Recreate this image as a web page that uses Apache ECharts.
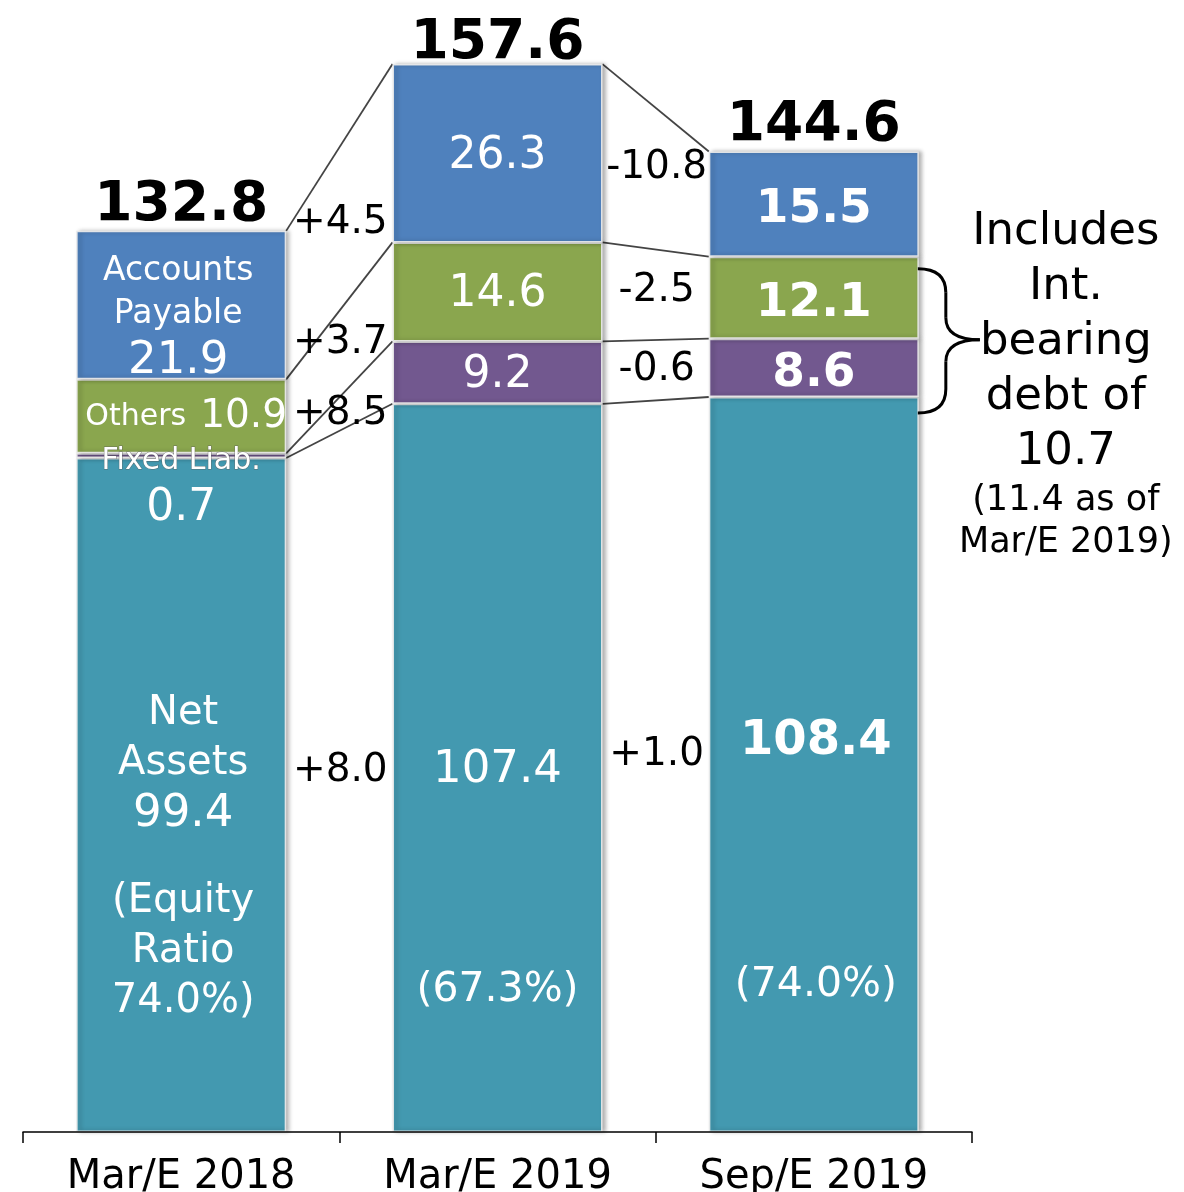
<!DOCTYPE html>
<html>
<head>
<meta charset="utf-8">
<script src="https://cdn.jsdelivr.net/npm/echarts@6/dist/echarts.min.js"></script>
<style>
  html, body { margin: 0; padding: 0; background: #fff; }
  #main { width: 1184px; height: 1192px; }
</style>
</head>
<body>
<div id="main"></div>
<script>
// values (billion yen)
const categories = ['Mar/E 2018', 'Mar/E 2019', 'Sep/E 2019'];
const netAssets = [99.4, 107.4, 108.4];
const fixedLiab = [0.7, 9.2, 8.6];
const others = [10.9, 14.6, 12.1];
const accountsPayable = [21.9, 26.3, 15.5];
const totals = [132.8, 157.6, 144.6];
const equityRatio = ['74.0%', '67.3%', '74.0%'];
// changes between periods, bottom to top: net, fixed, others, payable
const deltaText = [
  ['+8.0', '+8.5', '+3.7', '+4.5'],
  ['+1.0', '-0.6', '-2.5', '-10.8']
];
const debtNote = ['Includes', 'Int.', 'bearing', 'debt of', '10.7'];
const debtNoteSmall = ['(11.4 as of', 'Mar/E 2019)'];

// layout only: where the change labels sit (axis units)
const deltaAt = [
  [53.7, 106.3, 116.8, 134.5],
  [56.0, 112.8, 124.5, 142.6]
];
// layout only: gap between each total and its bar
const totalGap = [-2, -8, -2];

const FONT = 'DejaVu Sans';
const BAR_W = 210;
const colors = { net: '#4399B0', fixed: '#72588F', others: '#8AA64E', ap: '#4F81BD' };

const chart = echarts.init(document.getElementById('main'));

// top of each stacked segment per period
const levels = categories.map(function (c, i) {
  const a = netAssets[i];
  const b = a + fixedLiab[i];
  const d = b + others[i];
  return [a, b, d, d + accountsPayable[i]];
});

const connectorData = [];
for (let g = 0; g < categories.length - 1; g++) {
  for (let k = 0; k < 4; k++) {
    connectorData.push([g, levels[g][k], levels[g + 1][k]]);
  }
}
const deltaData = [];
const deltaFlat = [];
for (let g = 0; g < deltaText.length; g++) {
  for (let k = 0; k < 4; k++) {
    deltaData.push([g, deltaAt[g][k]]);
    deltaFlat.push(deltaText[g][k]);
  }
}

const fmt = v => v.toFixed(1);
const base = { show: true, position: 'inside', color: '#fff', fontFamily: FONT, textBorderWidth: 0 };
const plain = (v, size) => Object.assign({}, base, { formatter: fmt(v), fontSize: size, offset: [0, 3] });
const bold = v => Object.assign({}, base, { formatter: fmt(v), fontSize: 47, fontWeight: 'bold', offset: [0, 6] });

const barStyle = {
  borderColor: 'rgba(235,235,235,0.9)',
  borderWidth: 1.5,
  shadowColor: 'rgba(0,0,0,0.3)',
  shadowBlur: 4,
  shadowOffsetX: 3
};

function barSeries(name, values, color, labels) {
  return {
    name: name,
    type: 'bar',
    stack: 'bs',
    barWidth: BAR_W,
    itemStyle: Object.assign({ color: color }, barStyle),
    data: values.map(function (v, i) { return { value: v, label: labels[i] }; }),
    z: 2
  };
}

const netLabels = [
  Object.assign({}, base, {
    offset: [2, 63],
    formatter: '{w|Net}\n{w|Assets}\n{v|' + fmt(netAssets[0]) + '}\n{g| }\n{w|(Equity}\n{w|Ratio}\n{w|' + equityRatio[0] + ')}',
    rich: {
      w: { fontSize: 40, lineHeight: 50, color: '#fff', fontFamily: FONT },
      v: { fontSize: 45, lineHeight: 50, color: '#fff', fontFamily: FONT },
      g: { fontSize: 10, lineHeight: 38 }
    }
  }),
  Object.assign({}, base, {
    offset: [0, 112],
    formatter: '{v|' + fmt(netAssets[1]) + '}\n{g| }\n{p|(' + equityRatio[1] + ')}',
    rich: {
      v: { fontSize: 45, lineHeight: 50, color: '#fff', fontFamily: FONT },
      p: { fontSize: 41, lineHeight: 50, color: '#fff', fontFamily: FONT },
      g: { fontSize: 10, lineHeight: 170 }
    }
  }),
  Object.assign({}, base, {
    offset: [2, 99],
    formatter: '{b|' + fmt(netAssets[2]) + '}\n{g| }\n{p|(' + equityRatio[2] + ')}',
    rich: {
      b: { fontSize: 48, fontWeight: 'bold', lineHeight: 50, color: '#fff', fontFamily: FONT },
      p: { fontSize: 41, lineHeight: 50, color: '#fff', fontFamily: FONT },
      g: { fontSize: 10, lineHeight: 194 }
    }
  })
];

const fixedLabels = [
  Object.assign({}, base, {
    offset: [0, 31],
    formatter: '{f|Fixed Liab.}\n{v|' + fmt(fixedLiab[0]) + '}',
    rich: {
      f: { fontSize: 30, lineHeight: 44, color: '#fff', fontFamily: FONT, textBorderColor: 'rgba(90,90,90,0.7)', textBorderWidth: 1 },
      v: { fontSize: 44, lineHeight: 50, color: '#fff', fontFamily: FONT }
    }
  }),
  plain(fixedLiab[1], 44),
  bold(fixedLiab[2])
];

const otherLabels = [
  Object.assign({}, base, {
    offset: [5, 1],
    formatter: '{n|Others}{v|' + fmt(others[0]) + '}',
    rich: {
      n: { fontSize: 30, color: '#fff', fontFamily: FONT, padding: [0, 14, 0, 0] },
      v: { fontSize: 39, color: '#fff', fontFamily: FONT }
    }
  }),
  plain(others[1], 44),
  bold(others[2])
];

const apLabels = [
  Object.assign({}, base, {
    offset: [-3, 13],
    formatter: '{n|Accounts}\n{n|Payable}\n{v|' + fmt(accountsPayable[0]) + '}',
    rich: {
      n: { fontSize: 33, lineHeight: 43, color: '#fff', fontFamily: FONT },
      v: { fontSize: 45, lineHeight: 50, color: '#fff', fontFamily: FONT }
    }
  }),
  plain(accountsPayable[1], 44),
  bold(accountsPayable[2])
];

const option = {
  animation: false,
  backgroundColor: '#fff',
  textStyle: { fontFamily: FONT },
  grid: { left: 23, right: 212, top: 20, bottom: 60, containLabel: false, outerBoundsMode: 'none' },
  xAxis: {
    type: 'category',
    data: categories,
    axisLine: { lineStyle: { color: '#000', width: 1.5 } },
    axisTick: { show: true, length: 11, lineStyle: { color: '#000', width: 1.5 } },
    axisLabel: { fontSize: 40, color: '#000', margin: 26, fontFamily: FONT },
    z: 5
  },
  yAxis: { type: 'value', min: 0, max: 164, show: false, splitLine: { show: false } },
  series: [
    barSeries('Net Assets', netAssets, colors.net, netLabels),
    barSeries('Fixed Liab.', fixedLiab, colors.fixed, fixedLabels),
    barSeries('Others', others, colors.others, otherLabels),
    barSeries('Accounts Payable', accountsPayable, colors.ap, apLabels),
    {
      name: 'total',
      type: 'scatter',
      symbolSize: 0,
      silent: true,
      itemStyle: { opacity: 1 },
      data: totals.map((v, i) => ({ value: v, label: { distance: totalGap[i] } })),
      label: {
        show: true,
        position: 'top',
        formatter: p => fmt(totals[p.dataIndex]),
        fontSize: 55,
        fontWeight: 'bold',
        color: '#000',
        fontFamily: FONT
      },
      z: 6
    },
    {
      name: 'connectors',
      type: 'custom',
      silent: true,
      encode: { x: 0, y: [1, 2] },
      data: connectorData,
      renderItem: function (params, api) {
        const g = api.value(0);
        const a = api.coord([g, api.value(1)]);
        const b = api.coord([g + 1, api.value(2)]);
        return {
          type: 'line',
          shape: { x1: a[0] + BAR_W / 2, y1: a[1], x2: b[0] - BAR_W / 2, y2: b[1] },
          style: { stroke: '#444', lineWidth: 1.8 }
        };
      },
      z: 1
    },
    {
      name: 'changes',
      type: 'custom',
      silent: true,
      encode: { x: 0, y: 1 },
      data: deltaData,
      renderItem: function (params, api) {
        const g = api.value(0);
        const a = api.coord([g, api.value(1)]);
        const b = api.coord([g + 1, api.value(1)]);
        return {
          type: 'text',
          x: (a[0] + b[0]) / 2 + 1,
          y: a[1] + 3,
          style: {
            text: deltaFlat[params.dataIndex],
            fontSize: 39,
            fontFamily: FONT,
            fill: '#000',
            align: 'center',
            verticalAlign: 'middle'
          }
        };
      },
      z: 4
    },
    {
      name: 'debt brace',
      type: 'custom',
      silent: true,
      encode: { x: 0, y: [1, 2] },
      data: [[2, levels[2][0], levels[2][2]]],
      renderItem: function (params, api) {
        const up = api.coord([api.value(0), api.value(2)]);
        const lo = api.coord([api.value(0), api.value(1)]);
        const x0 = up[0] + BAR_W / 2 - 1;
        const top = up[1] + 12;
        const bot = lo[1] + 16;
        const mid = (top + bot) / 2 - 1;
        const xv = x0 + 28;
        const tip = x0 + 62;
        const st = { stroke: '#000', lineWidth: 3, fill: null };
        const noteRich = {
          a: { fontSize: 45, lineHeight: 55, fontFamily: FONT, fill: '#000' },
          s: { fontSize: 35, lineHeight: 42, fontFamily: FONT, fill: '#000' }
        };
        const noteText = debtNote.map(t => '{a|' + t + '}').concat(debtNoteSmall.map(t => '{s|' + t + '}')).join('\n');
        return {
          type: 'group',
          children: [
            { type: 'bezierCurve', shape: { x1: x0, y1: top, cpx1: xv, cpy1: top, x2: xv, y2: top + 24 }, style: st },
            { type: 'line', shape: { x1: xv, y1: top + 24, x2: xv, y2: mid - 22 }, style: st },
            { type: 'bezierCurve', shape: { x1: xv, y1: mid - 22, cpx1: xv, cpy1: mid, x2: tip, y2: mid }, style: st },
            { type: 'bezierCurve', shape: { x1: tip, y1: mid, cpx1: xv, cpy1: mid, x2: xv, y2: mid + 22 }, style: st },
            { type: 'line', shape: { x1: xv, y1: mid + 22, x2: xv, y2: bot - 24 }, style: st },
            { type: 'bezierCurve', shape: { x1: xv, y1: bot - 24, cpx1: xv, cpy1: bot, x2: x0, y2: bot }, style: st },
            {
              type: 'text',
              x: tip + 86,
              y: mid - 135,
              style: { text: noteText, rich: noteRich, align: 'center', verticalAlign: 'top', fontFamily: FONT, fill: '#000' }
            }
          ]
        };
      },
      z: 4
    }
  ]
};

chart.setOption(option);
</script>
</body>
</html>
